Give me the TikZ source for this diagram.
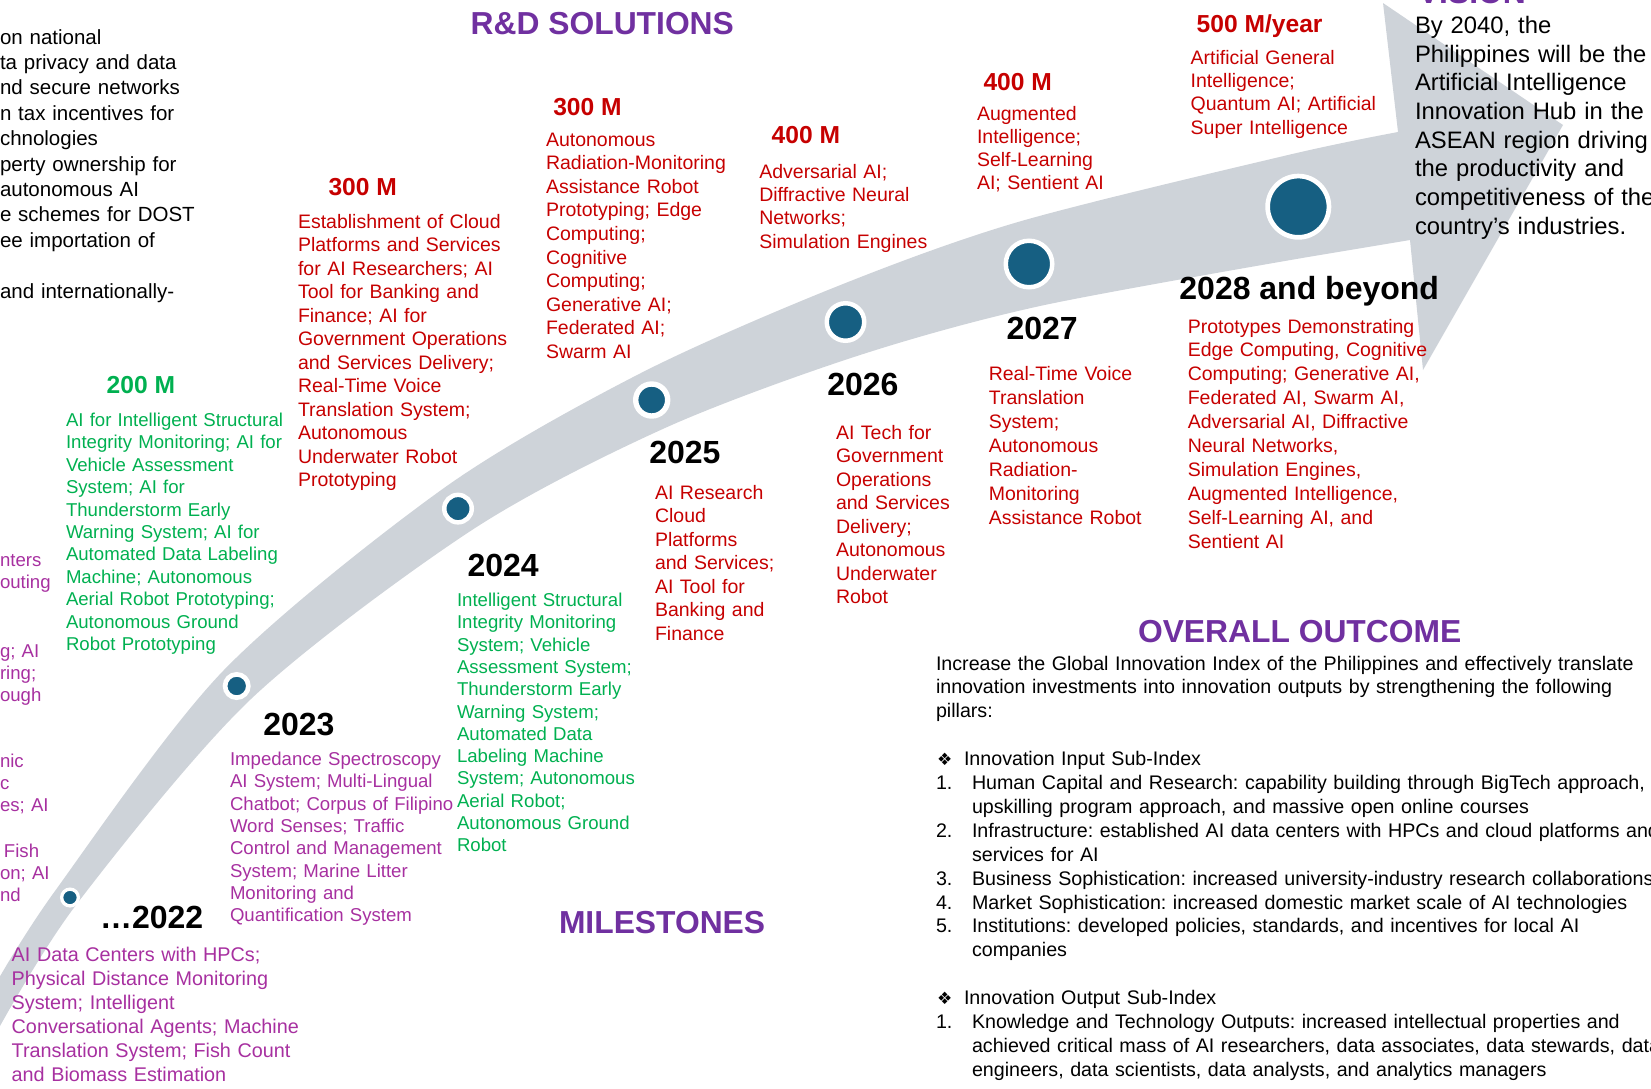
\documentclass[tikz,border=0pt]{standalone}
\usepackage{fontspec}
\setmainfont{Liberation Sans}
\newfontfamily\symfont{DejaVu Sans}
\definecolor{bandgray}{RGB}{206,211,217}
\definecolor{dotblue}{RGB}{22,95,130}
\definecolor{rdred}{RGB}{198,0,0}
\definecolor{grn}{RGB}{0,176,80}
\definecolor{mag}{RGB}{167,48,160}
\definecolor{ttlpurple}{RGB}{112,48,160}
\begin{document}
\frenchspacing
\begin{tikzpicture}[x=1pt,y=-1pt,
  plainlbl/.style={anchor=base west, inner sep=0pt, outer sep=0pt},
  blk/.style={plainlbl, align=left, text width=900pt},
  ttl/.style={plainlbl, text=ttlpurple, font=\bfseries\fontsize{31.8}{36}\selectfont},
  yr/.style={plainlbl, text=black, font=\bfseries\fontsize{32}{36}\selectfont},
  money/.style={plainlbl, text=rdred, font=\bfseries\fontsize{24.6}{28}\selectfont},
  redblk/.style={blk, text=rdred, font=\fontsize{19.5}{#1}\selectfont},
  grnblk/.style={blk, text=grn, font=\fontsize{18.6}{#1}\selectfont},
  magblk/.style 2 args={blk, text=mag, font=\fontsize{#1}{#2}\selectfont},
  blkblk/.style 2 args={blk, text=black, font=\fontsize{#1}{#2}\selectfont},
  dot/.style={circle, fill=dotblue, draw=white, inner sep=0pt}
]
\useasboundingbox (0,0) rectangle (1651,1088);
\clip (0,0) rectangle (1651,1088);

% curved band with arrowhead
\fill[bandgray] plot[smooth] coordinates {(-5,985) (55,891) (223,671) (444,488) (639,374) (833,288) (1018,222) (1288,155) (1398,132)}
  -- (1383,3) -- (1563,125) -- (1423,370) -- (1410,240)
  -- plot[smooth] coordinates {(1308,257) (1040,306) (857,356) (665,428) (472,530) (251,699) (76,905) (-5,1035)} -- cycle;

% milestone dots
\node[dot, minimum size=16.7pt, line width=3.3pt] (c1) at (70,897.5) {};
\node[dot, minimum size=23.3pt, line width=4.7pt] (c2) at (236.7,686) {};
\node[dot, minimum size=27.5pt, line width=4.5pt] (c3) at (458,508.6) {};
\node[dot, minimum size=32pt, line width=5.4pt] (c4) at (651.7,400) {};
\node[dot, minimum size=37.5pt, line width=4.5pt] (c5) at (845.5,322) {};
\node[dot, minimum size=46.5pt, line width=4.5pt] (c6) at (1029,264) {};
\node[dot, minimum size=61.3pt, line width=4.7pt] (c7) at (1298.3,206.7) {};

% titles
\node[ttl] (rd) at (470.7,34) {R\&D SOLUTIONS};
\node[ttl] (ms) at (559,933) {MILESTONES};
\node[ttl] (oo) at (1138,642) {OVERALL OUTCOME};
\node[ttl] (vis) at (1418,3.5) {VISION};

% left cut-off black text
\node[blkblk={20.5}{25.4}] (lefttxt) at (0,44) {on national\\ta privacy and data\\nd secure networks\\n tax incentives for\\chnologies\\perty ownership for\\autonomous AI\\e schemes for DOST\\ee importation of\\[25.4pt]and internationally-};

% left cut-off magenta fragments
\node[magblk={18.6}{22.3}] (lf1) at (0,566) {nters\\outing};
\node[magblk={18.6}{22.3}] (lf2) at (0,657) {g; AI\\ring;\\ough};
\node[magblk={18.6}{22.3}] (lf3) at (0,767) {nic\\c\\es; AI};
\node[magblk={18.6}{22.3}] (lf4) at (0,857) {\hspace*{4pt}Fish\\on; AI\\nd};

% money labels
\node[money, text=grn] (m200) at (106.7,393) {200 M};
\node[money] (m300a) at (328.5,195) {300 M};
\node[money] (m300b) at (553.3,115) {300 M};
\node[money] (m400a) at (771.7,143.3) {400 M};
\node[money] (m400b) at (983.5,90) {400 M};
\node[money] (m500) at (1196.7,32.3) {500 M/year};

% R&D bodies
\node[grnblk=22.4] (b200) at (66,426.5) {AI for Intelligent Structural\\Integrity Monitoring; AI for\\Vehicle Assessment\\System; AI for\\Thunderstorm Early\\Warning System; AI for\\Automated Data Labeling\\Machine; Autonomous\\Aerial Robot Prototyping;\\Autonomous Ground\\Robot Prototyping};
\node[redblk=23.5] (b300a) at (298,228) {Establishment of Cloud\\Platforms and Services\\for AI Researchers; AI\\Tool for Banking and\\Finance; AI for\\Government Operations\\and Services Delivery;\\Real-Time Voice\\Translation System;\\Autonomous\\Underwater Robot\\Prototyping};
\node[redblk=23.6] (b300b) at (546,146) {Autonomous\\Radiation-Monitoring\\Assistance Robot\\Prototyping; Edge\\Computing;\\Cognitive\\Computing;\\Generative AI;\\Federated AI;\\Swarm AI};
\node[redblk=23.3] (b400a) at (759.3,178.3) {Adversarial AI;\\Diffractive Neural\\Networks;\\Simulation Engines};
\node[redblk=23.2] (b400b) at (977,120) {Augmented\\Intelligence;\\Self-Learning\\AI; Sentient AI};
\node[redblk=23.4] (b500) at (1190.7,64) {Artificial General\\Intelligence;\\Quantum AI; Artificial\\Super Intelligence};

% years
\node[yr] (y2022) at (100,928.3) {…2022};
\node[yr] (y2023) at (263.3,735) {2023};
\node[yr] (y2024) at (467.5,576) {2024};
\node[yr] (y2025) at (649.3,463.3) {2025};
\node[yr] (y2026) at (827.3,395) {2026};
\node[yr] (y2027) at (1006.6,339) {2027};
\node[yr] (y2028) at (1179.4,299) {2028 and beyond};

% milestone bodies
\node[magblk={19.8}{23.9}] (b2022) at (11.7,961.7) {AI Data Centers with HPCs;\\Physical Distance Monitoring\\System; Intelligent\\Conversational Agents; Machine\\Translation System; Fish Count\\and Biomass Estimation};
\node[magblk={18.6}{22.3}] (b2023) at (230,765.6) {Impedance Spectroscopy\\AI System; Multi-Lingual\\Chatbot; Corpus of Filipino\\Word Senses; Traffic\\Control and Management\\System; Marine Litter\\Monitoring and\\Quantification System};
\node[grnblk=22.3] (b2024) at (457,606.5) {Intelligent Structural\\Integrity Monitoring\\System; Vehicle\\Assessment System;\\Thunderstorm Early\\Warning System;\\Automated Data\\Labeling Machine\\System; Autonomous\\Aerial Robot;\\Autonomous Ground\\Robot};
\node[redblk=23.5] (b2025) at (655,499) {AI Research\\Cloud\\Platforms\\and Services;\\AI Tool for\\Banking and\\Finance};
\node[redblk=23.5] (b2026) at (836,439.3) {AI Tech for\\Government\\Operations\\and Services\\Delivery;\\Autonomous\\Underwater\\Robot};
\node[redblk=24.0] (b2027) at (988.8,380) {Real-Time Voice\\Translation\\System;\\Autonomous\\Radiation-\\Monitoring\\Assistance Robot};
\node[redblk=23.9] (b2028) at (1187.8,333) {Prototypes Demonstrating\\Edge Computing, Cognitive\\Computing; Generative AI,\\Federated AI, Swarm AI,\\Adversarial AI, Diffractive\\Neural Networks,\\Simulation Engines,\\Augmented Intelligence,\\Self-Learning AI, and\\Sentient AI};

% vision text
\node[blkblk={23.8}{28.7}] (vtxt) at (1415,33.3) {By 2040, the\\Philippines will be the\\Artificial Intelligence\\Innovation Hub in the\\ASEAN region driving\\the productivity and\\competitiveness of the\\country’s industries.};

% overall outcome text
\node[blkblk={19.65}{23.9}] (otxt) at (936,670) {Increase the Global Innovation Index of the Philippines and effectively translate\\
innovation investments into innovation outputs by strengthening the following\\
pillars:\\[23.9pt]
\makebox[28pt][l]{\hspace*{1pt}{\symfont\fontsize{17}{17}\selectfont ❖}}Innovation Input Sub-Index\\
\makebox[36pt][l]{1.}Human Capital and Research: capability building through BigTech approach,\\
\hspace*{36pt}upskilling program approach, and massive open online courses\\
\makebox[36pt][l]{2.}Infrastructure: established AI data centers with HPCs and cloud platforms and\\
\hspace*{36pt}services for AI\\
\makebox[36pt][l]{3.}Business Sophistication: increased university-industry research collaborations\\
\makebox[36pt][l]{4.}Market Sophistication: increased domestic market scale of AI technologies\\
\makebox[36pt][l]{5.}Institutions: developed policies, standards, and incentives for local AI\\
\hspace*{36pt}companies\\[23.9pt]
\makebox[28pt][l]{\hspace*{1pt}{\symfont\fontsize{17}{17}\selectfont ❖}}Innovation Output Sub-Index\\
\makebox[36pt][l]{1.}Knowledge and Technology Outputs: increased intellectual properties and\\
\hspace*{36pt}achieved critical mass of AI researchers, data associates, data stewards, data\\
\hspace*{36pt}engineers, data scientists, data analysts, and analytics managers};
\end{tikzpicture}
\end{document}
